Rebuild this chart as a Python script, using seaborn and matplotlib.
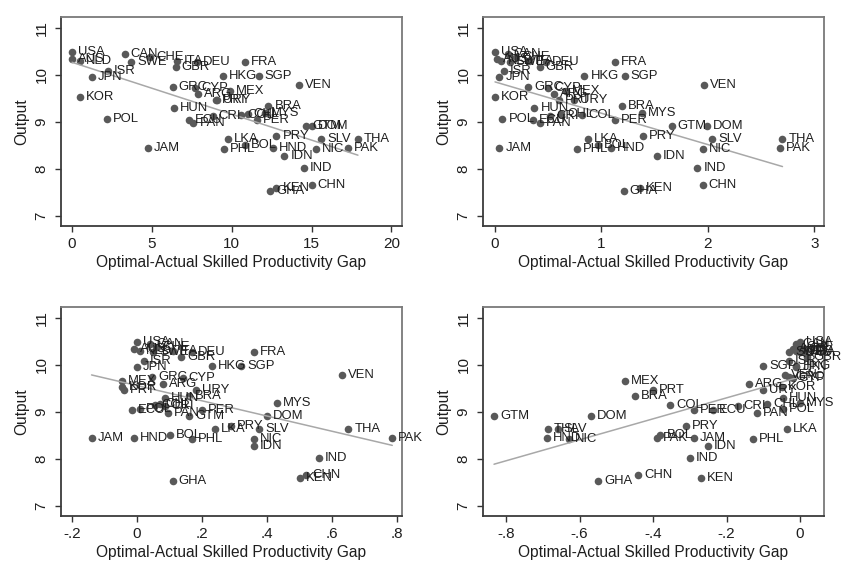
import matplotlib
matplotlib.use("Agg")
import matplotlib.pyplot as plt
import seaborn as sns
import pandas as pd

# Country codes and log output per worker (shared across the four panels)
countries = ["USA", "AUS", "NLD", "CAN", "CHE", "ITA", "DEU", "SWE", "GBR", "ISR",
             "JPN", "FRA", "HKG", "SGP", "VEN", "KOR", "GRC", "CYP", "ARG", "MEX",
             "PRT", "URY", "HUN", "BRA", "MYS", "POL", "ECU", "CRI", "CHL", "COL",
             "PER", "PAN", "GTM", "DOM", "PRY", "LKA", "PHL", "BOL", "HND", "IDN",
             "SLV", "NIC", "THA", "PAK", "IND", "CHN", "KEN", "GHA", "JAM"]

output = [10.49, 10.33, 10.30, 10.44, 10.38, 10.30, 10.28, 10.27, 10.17, 10.09,
          9.96, 10.28, 9.98, 9.98, 9.78, 9.53, 9.74, 9.72, 9.60, 9.66,
          9.47, 9.46, 9.30, 9.34, 9.19, 9.06, 9.04, 9.13, 9.16, 9.14,
          9.05, 8.98, 8.91, 8.91, 8.71, 8.63, 8.43, 8.52, 8.45, 8.28,
          8.64, 8.42, 8.64, 8.45, 8.03, 7.67, 7.60, 7.53, 8.45]

# Optimal-actual skilled productivity gap, one list per specification
gap_a = [0.0, 0.0, 0.5, 3.3, 4.9, 6.6, 7.8, 3.7, 6.5, 2.25,
         1.25, 10.8, 9.45, 11.7, 14.2, 0.5, 6.3, 7.7, 7.9, 9.9,
         9.0, 9.1, 6.4, 12.3, 12.1, 2.2, 7.3, 8.8, 11.0, 10.6,
         11.6, 7.6, 14.65, 15.0, 12.8, 9.75, 9.5, 10.8, 12.6, 13.3,
         15.6, 15.3, 17.9, 17.3, 14.5, 15.0, 12.8, 12.4, 4.76]

gap_b = [0.0, 0.02, 0.06, 0.12, 0.20, 0.32, 0.48, 0.14, 0.42, 0.08,
         0.04, 1.13, 0.84, 1.22, 1.96, 0.0, 0.31, 0.50, 0.55, 0.67,
         0.60, 0.74, 0.37, 1.19, 1.38, 0.07, 0.36, 0.52, 0.62, 0.82,
         1.13, 0.42, 1.66, 1.99, 1.39, 0.87, 0.77, 0.97, 1.09, 1.52,
         2.04, 1.95, 2.70, 2.68, 1.90, 1.95, 1.36, 1.21, 0.04]

gap_c = [0.0, -0.01, 0.01, 0.04, 0.06, 0.11, 0.17, 0.05, 0.135, 0.02,
         0.0, 0.36, 0.23, 0.32, 0.63, -0.045, 0.046, 0.14, 0.08, -0.046,
         -0.04, 0.18, 0.086, 0.16, 0.43, 0.01, -0.015, 0.086, 0.07, 0.055,
         0.20, 0.095, 0.16, 0.40, 0.29, 0.24, 0.17, 0.10, -0.01, 0.36,
         0.375, 0.36, 0.65, 0.785, 0.56, 0.52, 0.50, 0.11, -0.14]

gap_d = [0.0, -0.02, -0.01, -0.01, 0.0, 0.01, 0.0, -0.03, 0.02, -0.03,
         -0.01, 0.01, -0.01, -0.10, -0.04, -0.05, -0.03, -0.02, -0.14, -0.476,
         -0.40, -0.10, -0.046, -0.45, 0.0, -0.046, -0.237, -0.17, -0.09, -0.354,
         -0.29, -0.117, -0.833, -0.57, -0.31, -0.035, -0.128, -0.38, -0.69, -0.25,
         -0.66, -0.63, -0.686, -0.39, -0.30, -0.44, -0.27, -0.55, -0.29]

xticks_a = [0, 5, 10, 15, 20]
xticks_b = [0, 1, 2, 3]
xticks_c = [-0.2, 0, 0.2, 0.4, 0.6, 0.8]
xticks_d = [-0.8, -0.6, -0.4, -0.2, 0]
xticklabels_a = ["0", "5", "10", "15", "20"]
xticklabels_b = ["0", "1", "2", "3"]
xticklabels_c = ["-.2", "0", ".2", ".4", ".6", ".8"]
xticklabels_d = ["-.8", "-.6", "-.4", "-.2", "0"]
yticks = [7, 8, 9, 10, 11]

df = pd.DataFrame({"country": countries, "output": output,
                   "gap_a": gap_a, "gap_b": gap_b, "gap_c": gap_c, "gap_d": gap_d})

sns.set_theme(style="white")
plt.rcParams["font.family"] = ["Liberation Sans", "DejaVu Sans"]

W, H = 849, 567
fig = plt.figure(figsize=(W / 100, H / 100), dpi=100)
fig.patch.set_facecolor("white")


def box(left, top, right, bottom):
    return [left / W, 1 - bottom / H, (right - left) / W, (bottom - top) / H]


panels = [
    ("gap_a", box(61, 17, 402, 226), (-0.69, 20.66), xticks_a, xticklabels_a),
    ("gap_b", box(483, 17, 824, 226), (-0.113, 3.09), xticks_b, xticklabels_b),
    ("gap_c", box(61, 307, 402, 516), (-0.234, 0.815), xticks_c, xticklabels_c),
    ("gap_d", box(483, 307, 824, 516), (-0.863, 0.065), xticks_d, xticklabels_d),
]

marker_color = "#595959"
text_color = "#1e1e1e"

for col, rect, xlim, xt, xtl in panels:
    ax = fig.add_axes(rect)
    sns.scatterplot(data=df, x=col, y="output", ax=ax, color=marker_color,
                    s=30, linewidth=0, zorder=3, legend=False)
    sns.regplot(data=df, x=col, y="output", ax=ax, scatter=False, ci=None,
                truncate=True, line_kws={"color": "#a8a8a8", "lw": 1.1, "zorder": 4})
    for name, xv, yv in zip(df["country"], df[col], df["output"]):
        ax.annotate(name, (xv, yv), xytext=(4.3, 0), textcoords="offset points",
                    ha="left", va="center", fontsize=9.4, color=text_color, zorder=5)
    ax.set_xlim(*xlim)
    ax.set_ylim(6.787, 11.234)
    ax.set_xticks(xt)
    ax.set_xticklabels(xtl)
    ax.set_yticks(yticks)
    ax.set_yticklabels([str(v) for v in yticks])
    ax.tick_params(axis="both", which="major", direction="out", length=4,
                   width=1, color="#333333", labelsize=11, labelcolor=text_color,
                   bottom=True, left=True)
    ax.tick_params(axis="y", labelrotation=90, pad=5)
    ax.tick_params(axis="x", pad=4)
    for lbl in ax.get_yticklabels():
        lbl.set_va("center")
    for side in ("left", "bottom"):
        ax.spines[side].set_color("#3a3a3a")
        ax.spines[side].set_linewidth(1.3)
    for side in ("top", "right"):
        ax.spines[side].set_color("#7a7a7a")
        ax.spines[side].set_linewidth(1.3)
    ax.set_facecolor("white")
    ax.grid(False)
    ax.set_xlabel("Optimal-Actual Skilled Productivity Gap", fontsize=11.2,
                  color=text_color)
    ax.set_ylabel("Output", fontsize=11.2, color=text_color)
    ax.xaxis.label.set_va("center")
    ax.xaxis.set_label_coords(0.5, -0.177)
    ax.yaxis.label.set_va("center")
    ax.yaxis.set_label_coords(-0.114, 0.5)

fig.savefig("out.png", dpi=100, facecolor="white")
